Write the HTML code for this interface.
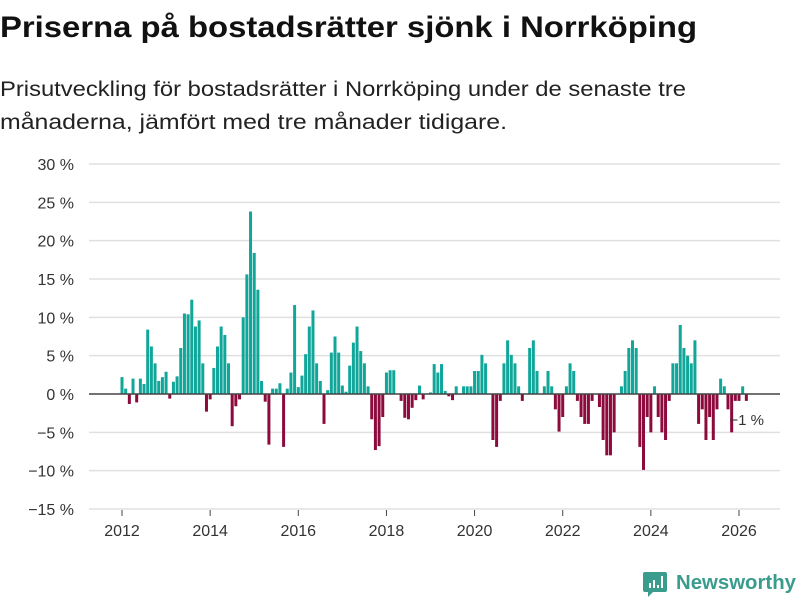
<!DOCTYPE html>
<html><head><meta charset="utf-8"><style>
body{margin:0;background:#fff;width:800px;height:600px;overflow:hidden}
svg{display:block;font-family:"Liberation Sans","DejaVu Sans",sans-serif}
</style></head><body>
<svg id="chart" width="800" height="600" viewBox="0 0 800 600">
<text x="0" y="37" font-size="30" font-weight="bold" fill="#111" textLength="697" lengthAdjust="spacingAndGlyphs">Priserna på bostadsrätter sjönk i Norrköping</text>
<text x="0" y="96" font-size="21" fill="#222" textLength="686" lengthAdjust="spacingAndGlyphs">Prisutveckling för bostadsrätter i Norrköping under de senaste tre</text>
<text x="0" y="129" font-size="21" fill="#222" textLength="507" lengthAdjust="spacingAndGlyphs">månaderna, jämfört med tre månader tidigare.</text>
<g id="grid"></g>
<g id="bars"></g>
<g id="xaxis"></g>
<g>
<path d="M645 572 h20 a2 2 0 0 1 2 2 v16 a2 2 0 0 1 -2 2 h-12 l-5 5 v-5 h-3 a2 2 0 0 1 -2 -2 v-16 a2 2 0 0 1 2 -2z" fill="#3a9c8c"/>
<rect x="649" y="583" width="2" height="5" fill="#fff"/><rect x="653" y="580" width="2" height="8" fill="#fff"/><rect x="657" y="585" width="2" height="3" fill="#fff"/><rect x="661" y="576" width="2" height="12" fill="#fff"/>
<text x="676" y="589" font-size="20" font-weight="bold" fill="#3a9c8c" textLength="120" lengthAdjust="spacingAndGlyphs">Newsworthy</text>
</g>
</svg>
<script>
const values = [2.2,0.7,-1.3,2.0,-1.1,2.0,1.3,8.4,6.2,4.0,1.7,2.2,2.9,-0.6,1.6,2.3,6.0,10.5,10.4,12.3,8.8,9.6,4.0,-2.3,-0.7,3.4,6.2,8.8,7.7,4.0,-4.2,-1.6,-0.7,10.0,15.6,23.8,18.4,13.6,1.7,-1.0,-6.6,0.7,0.7,1.4,
-6.9,0.7,2.8,11.6,0.9,2.4,5.2,8.8,10.9,4.0,1.7,-3.9,0.5,5.4,7.5,5.4,1.1,0.3,3.7,6.7,8.8,5.6,4.0,1.0,-3.3,-7.3,-6.8,-3.0,2.8,3.1,3.1,0,-0.9,-3.1,-3.3,-1.8,-0.8,1.1,-0.7,0,0.2,3.9,2.8,3.9,
0.4,-0.3,-0.8,1.0,0,1.0,1.0,1.0,3.0,3.0,5.1,4.0,0,-6.0,-6.9,-0.9,4.0,7.0,5.1,4.0,1.0,-0.9,0,6.0,7.0,3.0,0,1.0,3.0,1.0,-2.0,-4.9,-3.0,1.0,4.0,3.0,-0.9,-3.0,-3.9,-3.9,-0.9,
0,-1.7,-6.0,-8.0,-8.0,-5.0,0,1.0,3.0,6.0,7.0,6.0,-6.9,-9.9,-3.0,-5.0,1.0,-3.0,-5.0,-6.0,-0.9,4.0,4.0,9.0,6.0,5.0,4.0,7.0,-3.9,-2.0,-6.0,-3.0,-6.0,-2.0,2.0,1.0,-2.0,-5.0,-0.9,-0.9,1.0,-0.9];
const startYear = 2012;
const yTicks = [30,25,20,15,10,5,0,-5,-10,-15];
const xTicks = [2012,2014,2016,2018,2020,2022,2024,2026];
const lastLabel = "−1 %";

const NS="http://www.w3.org/2000/svg";
function y(v){return 394 - v*7.667;}
function x(t){return 122 + (t-2012)*((739-122)/14);}
const step=(739-122)/14/12;
function mk(tag,attrs,parent){const e=document.createElementNS(NS,tag);for(const k in attrs)e.setAttribute(k,attrs[k]);parent.appendChild(e);return e;}
const grid=document.getElementById('grid'), bars=document.getElementById('bars'), xa=document.getElementById('xaxis');
yTicks.forEach(t=>{
  if(t!==0){const l=mk('line',{x1:89,x2:780,y1:y(t),y2:y(t),stroke:'#e0e0e0','stroke-width':1.5},grid);
  
  }
  const tx=mk('text',{x:74,y:y(t)+6,'font-size':16,fill:'#333','text-anchor':'end'},grid);
  tx.textContent=(t<0?'−'+(-t):t)+' %';
  
  
});
values.forEach((v,i)=>{
  const cx=x(startYear+i/12);
  const r=mk('rect',{x:cx-1.5,width:3,y:Math.min(y(v),y(0)),height:Math.abs(y(v)-y(0)),fill:v>=0?'#11a69a':'#8c0a3c'},bars);
  
  
});
const z=mk('line',{x1:89,x2:780,y1:y(0),y2:y(0),stroke:'#444','stroke-width':1.5},xa);


xTicks.forEach(t=>{
  const tl=mk('line',{x1:x(t),x2:x(t),y1:510,y2:516,stroke:'#444','stroke-width':1},xa);
  
  
  const tx=mk('text',{x:x(t),y:536,'font-size':16,fill:'#333','text-anchor':'middle'},xa);
  tx.textContent=t;
  
  
});
const li=values.length-1;
const lab=mk('text',{x:x(startYear+li/12)-17,y:425,'font-size':15,fill:'#333'},xa);
lab.textContent=lastLabel;


</script>
</body></html>
